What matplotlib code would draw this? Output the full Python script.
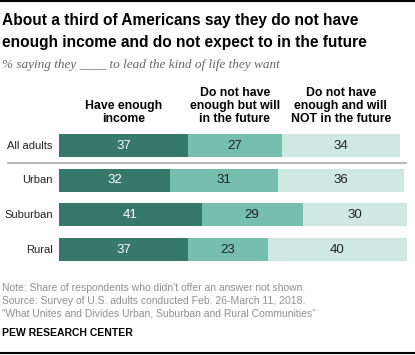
import matplotlib as mpl
mpl.rcParams['font.family'] = 'Liberation Sans'
import matplotlib.pyplot as plt
from matplotlib.lines import Line2D
import numpy as np

groups   = ['All adults', 'Urban', 'Suburban', 'Rural']
have     = [37, 32, 41, 37]
will     = [27, 31, 29, 23]
will_not = [34, 36, 30, 40]
headers  = ['Have enough\nincome', 'Do not have\nenough but will\nin the future',
            'Do not have\nenough and will\nNOT in the future']

COLORS = ['#36796a', '#76bfae', '#cfe8e2']
TXTCOL = ['white', '#222222', '#222222']

W, H = 415, 355
fig = plt.figure(figsize=(W/100, H/100), dpi=100)

def fx(px): return px / W
def fy(py): return 1 - py / H

# axes: x 0..100 maps 59px..407px, rows centred at 145.5 .. 249.5 px
row_px = 34.67
top_px = 145.5 - row_px/2
ax = fig.add_axes([fx(59), fy(top_px + 4*row_px), fx(407) - fx(59), 4*row_px/H])
ax.set_xlim(0, 100)
ax.set_ylim(3.5, -0.5)
ax.axis('off')

y = np.arange(len(groups))
left = np.zeros(len(groups))
for vals, c, tc in zip([have, will, will_not], COLORS, TXTCOL):
    vals = np.asarray(vals, dtype=float)
    ax.barh(y, vals, left=left, height=0.66, color=c, linewidth=0)
    for yi, l, v in zip(y, left, vals):
        ax.text(l + v/2, yi, '%d' % v, ha='center', va='center', color=tc, fontsize=9.5)
    left += vals

for yi, g in zip(y, groups):
    ax.text(-1.8, yi, g, ha='right', va='center', fontsize=8, color='#222222')

# column headers, centred above first row
for v_left, v, h in zip([0, have[0], have[0]+will[0]], [have[0], will[0], will_not[0]], headers):
    ax.text(v_left + v/2, -0.6, h, ha='center', va='bottom', fontsize=8.8,
            fontweight='bold', linespacing=1.12, color='black')

# separator line between All adults and Urban
fig.add_artist(Line2D([fx(8), fx(406)], [fy(163), fy(163)], color='#aaaaaa', lw=1.2))
# top and bottom rules
fig.add_artist(Line2D([0, 1], [fy(1), fy(1)], color='black', lw=1.5))
fig.add_artist(Line2D([0, 1], [fy(353), fy(353)], color='black', lw=1.5))

fig.text(fx(2), fy(20), 'About a third of Americans say they do not have',
         fontsize=11.2, fontweight='bold', va='center', color='black')
fig.text(fx(2), fy(43), 'enough income and do not expect to in the future',
         fontsize=11.2, fontweight='bold', va='center', color='black')
fig.text(fx(2), fy(65), '% saying they ____ to lead the kind of life they want',
         fontsize=9.5, style='italic', family='Liberation Serif', va='center', color='#666666')

notes = ["Note: Share of respondents who didn't offer an answer not shown.",
         'Source: Survey of U.S. adults conducted Feb. 26-March 11, 2018.',
         '\u201cWhat Unites and Divides Urban, Suburban and Rural Communities\u201d']
for i, n in enumerate(notes):
    fig.text(fx(2), fy(288 + 13*i), n, fontsize=7.5, va='center', color='#909090')
fig.text(fx(2), fy(333), 'PEW RESEARCH CENTER', fontsize=7.5, fontweight='bold',
         va='center', color='black')

fig.savefig('out.png', dpi=100)
